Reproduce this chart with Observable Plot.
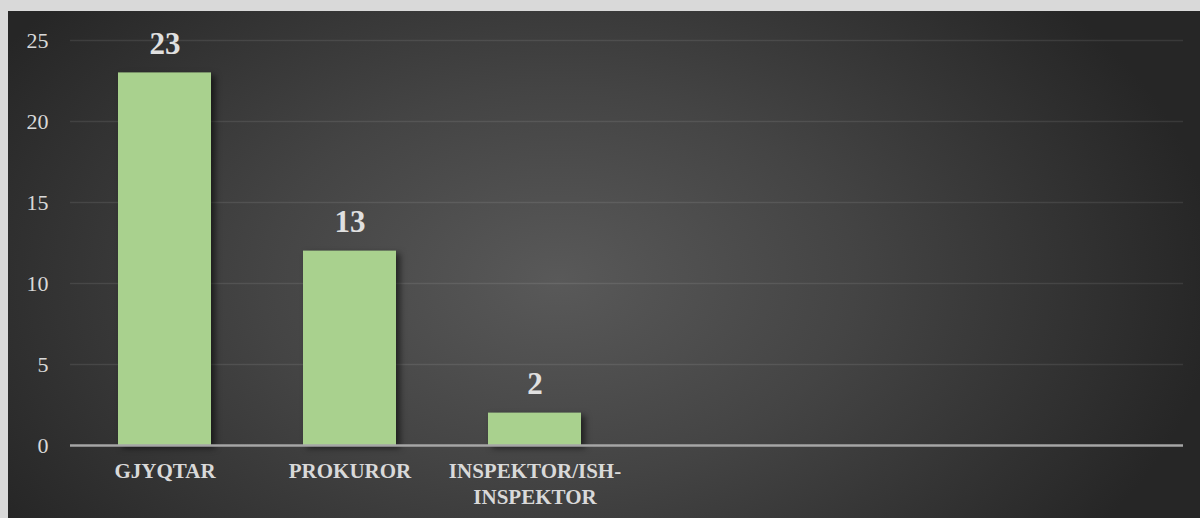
<!DOCTYPE html>
<html>
<head>
<meta charset="utf-8">
<script src="https://cdn.jsdelivr.net/npm/d3@7"></script>
<script src="https://cdn.jsdelivr.net/npm/@observablehq/plot@0.6"></script>
<style>
  html, body { margin: 0; padding: 0; }
  body { background: #d9d9d9; width: 1200px; height: 518px; overflow: hidden; }
  #wrap {
    position: absolute; left: 8px; top: 11px; width: 1192px; height: 507px;
    background: radial-gradient(ellipse 660px 430px at 550px 270px, #595959 0%, #444 45%, #262626 100%);
  }
  #wrap svg { display: block; }
  #wrap svg, #wrap svg text, #wrap svg g { font-family: "Liberation Serif", "Times New Roman", serif !important; }
</style>
</head>
<body>
<div id="wrap"></div>
<script>
// Categories (6 slots on the axis; last three are empty)
const categories = ["GJYQTAR", "PROKUROR", "INSPEKTOR/ISH-\nINSPEKTOR"];
const emptySlots = ["slot4", "slot5", "slot6"];
const values = [23, 12, 2];
const valueLabels = ["23", "13", "2"];
const yTicks = [0, 5, 10, 15, 20, 25];

const data = categories.map((c, i) => ({category: c, value: values[i], label: valueLabels[i]}));
const domain = categories.concat(emptySlots);

const textColor = "#d9d9d9";

const chart = Plot.plot({
  width: 1192,
  height: 507,
  marginLeft: 62,
  marginRight: 17,
  marginTop: 29,
  marginBottom: 73,
  style: {background: "transparent", fontFamily: "'Liberation Serif', 'Times New Roman', serif", color: textColor},
  x: {domain, type: "band", paddingInner: 0.5, paddingOuter: 0.25},
  y: {domain: [0, 25], ticks: yTicks},
  marks: [
    Plot.ruleY(yTicks.filter(d => d > 0), {stroke: "#ffffff", strokeOpacity: 0.09, strokeWidth: 1.5}),
    Plot.barY(data, {x: "category", y: "value", fill: "#a9d18e"}),
    Plot.ruleY([0], {stroke: "#a6a6a6", strokeWidth: 2.5}),
    Plot.text(data, {x: "category", y: "value", text: "label", dy: -29, fontSize: 31, fontWeight: "bold", fill: "#e0e0e0"}),
    Plot.axisY({ticks: yTicks, tickSize: 0, tickPadding: 22, fontSize: 22, fill: textColor, label: null}),
    Plot.axisX({tickSize: 0, tickPadding: 15, fontSize: 21, fontWeight: "bold", fill: textColor, lineHeight: 1.2, label: null,
      tickFormat: d => emptySlots.includes(d) ? "" : d})
  ]
});

document.getElementById("wrap").appendChild(chart);
// subtle drop shadow on bars, as in the original
d3.select(chart).selectAll("rect").filter(function() { return this.getAttribute("fill") === "#a9d18e" || this.parentNode.getAttribute("fill") === "#a9d18e"; })
  .style("filter", "drop-shadow(4px 3px 3px rgba(0,0,0,0.55))");
</script>
</body>
</html>
